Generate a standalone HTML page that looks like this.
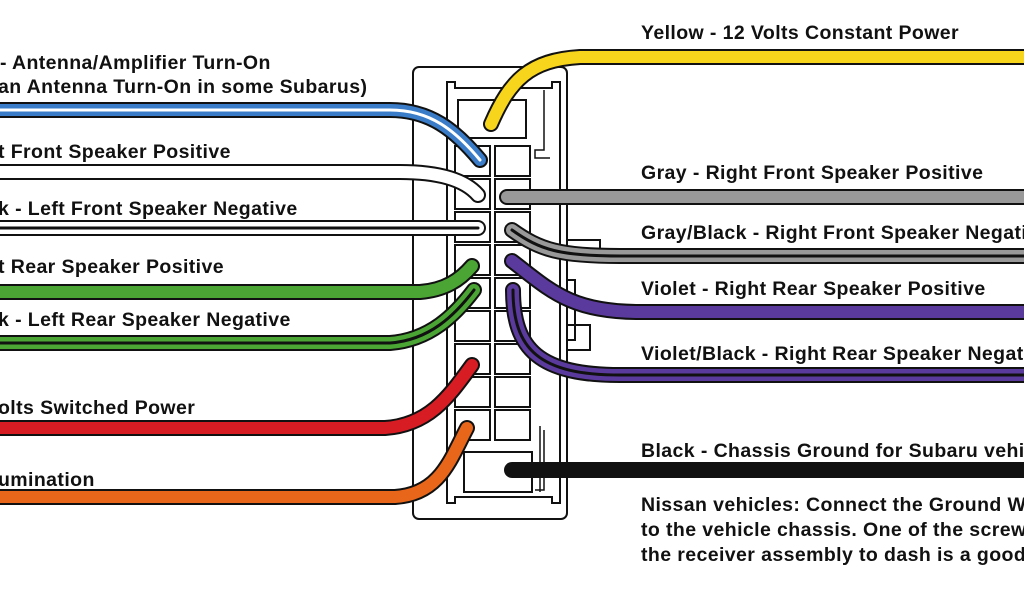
<!DOCTYPE html>
<html><head><style>
body{margin:0;width:1024px;height:600px;overflow:hidden;background:#fff}
svg{display:block}
text{font-family:"Liberation Sans",Arial,sans-serif;font-weight:bold;font-size:19.5px;letter-spacing:0.4px;fill:#111}
</style></head><body>
<svg width="1024" height="600" viewBox="0 0 1024 600">
<rect x="413" y="67" width="154" height="452" rx="6" fill="#fff" stroke="#111" stroke-width="2"/>
<path d="M447 82 H455 V88 H552 V82 H560 V503 H552 V497 H455 V503 H447 Z" fill="#fff" stroke="#111" stroke-width="2"/>
<rect x="458" y="100" width="68" height="38" fill="#fff" stroke="#111" stroke-width="2"/>
<path d="M544 90 V150 H535 V158 H550" fill="none" stroke="#111" stroke-width="1.5"/>
<path d="M544 430 V490 H535 M540 426 V492" fill="none" stroke="#111" stroke-width="1.5"/>
<rect x="464" y="452" width="68" height="40" fill="#fff" stroke="#111" stroke-width="2"/>
<path d="M567 240 H600 V262 H590 M567 280 H575 V340 H567 M567 325 H590 V350 H567" fill="none" stroke="#111" stroke-width="2"/>
<g fill="#fff" stroke="#111" stroke-width="2">
<rect x="455" y="146" width="35" height="30"/><rect x="495" y="146" width="35" height="30"/>
<rect x="455" y="179" width="35" height="30"/><rect x="495" y="179" width="35" height="30"/>
<rect x="455" y="212" width="35" height="30"/><rect x="495" y="212" width="35" height="30"/>
<rect x="455" y="245" width="35" height="30"/><rect x="495" y="245" width="35" height="30"/>
<rect x="455" y="278" width="35" height="30"/><rect x="495" y="278" width="35" height="30"/>
<rect x="455" y="311" width="35" height="30"/><rect x="495" y="311" width="35" height="30"/>
<rect x="455" y="344" width="35" height="30"/><rect x="495" y="344" width="35" height="30"/>
<rect x="455" y="377" width="35" height="30"/><rect x="495" y="377" width="35" height="30"/>
<rect x="455" y="410" width="35" height="30"/><rect x="495" y="410" width="35" height="30"/>
</g>
<g fill="none" stroke-linecap="round">
<path d="M-10 110 H390 C430 110 455 130 480 160" stroke="#111" stroke-width="16"/>
<path d="M-10 110 H390 C430 110 455 130 480 160" stroke="#3a7cc8" stroke-width="12"/>
<path d="M-10 110 H390 C430 110 455 130 480 160" stroke="#fff" stroke-width="3"/>
<path d="M-10 172 H400 C440 172 465 180 478 195" stroke="#111" stroke-width="16"/>
<path d="M-10 172 H400 C440 172 465 180 478 195" stroke="#fff" stroke-width="12"/>
<path d="M-10 228 H478" stroke="#111" stroke-width="16"/>
<path d="M-10 228 H478" stroke="#fff" stroke-width="12"/>
<path d="M-10 228 H478" stroke="#111" stroke-width="3"/>
<path d="M-10 292 H420 C445 290 460 280 472 266" stroke="#111" stroke-width="16"/>
<path d="M-10 292 H420 C445 290 460 280 472 266" stroke="#4aa534" stroke-width="12"/>
<path d="M-10 343 H390 C430 340 455 315 474 290" stroke="#111" stroke-width="16"/>
<path d="M-10 343 H390 C430 340 455 315 474 290" stroke="#4aa534" stroke-width="12"/>
<path d="M-10 343 H390 C430 340 455 315 474 290" stroke="#111" stroke-width="3"/>
<path d="M-10 428 H385 C430 425 450 395 472 365" stroke="#111" stroke-width="16"/>
<path d="M-10 428 H385 C430 425 450 395 472 365" stroke="#d81c24" stroke-width="12"/>
<path d="M-10 497 H395 C440 494 450 460 467 428" stroke="#111" stroke-width="16"/>
<path d="M-10 497 H395 C440 494 450 460 467 428" stroke="#e8661a" stroke-width="12"/>
<path d="M491 124 C510 80 530 60 580 57 H1034" stroke="#111" stroke-width="16"/>
<path d="M491 124 C510 80 530 60 580 57 H1034" stroke="#f7d51d" stroke-width="12"/>
<path d="M507 197 H1034" stroke="#111" stroke-width="16"/>
<path d="M507 197 H1034" stroke="#999" stroke-width="12"/>
<path d="M512 230 C540 250 560 256 620 256 H1034" stroke="#111" stroke-width="16"/>
<path d="M512 230 C540 250 560 256 620 256 H1034" stroke="#999" stroke-width="12"/>
<path d="M512 230 C540 250 560 256 620 256 H1034" stroke="#111" stroke-width="3"/>
<path d="M512 261 C550 290 570 312 640 312 H1034" stroke="#111" stroke-width="16"/>
<path d="M512 261 C550 290 570 312 640 312 H1034" stroke="#5b3a9e" stroke-width="12"/>
<path d="M513 290 C513 350 540 375 620 375 H1034" stroke="#111" stroke-width="16"/>
<path d="M513 290 C513 350 540 375 620 375 H1034" stroke="#5b3a9e" stroke-width="12"/>
<path d="M513 290 C513 350 540 375 620 375 H1034" stroke="#111" stroke-width="3"/>
<path d="M512 470 H1034" stroke="#111" stroke-width="16"/>
</g>
<text x="0" y="69">- Antenna/Amplifier Turn-On</text>
<text x="-2" y="93">an Antenna Turn-On in some Subarus)</text>
<text x="-2" y="158">t Front Speaker Positive</text>
<text x="-2" y="215">k - Left Front Speaker Negative</text>
<text x="-2" y="273">t Rear Speaker Positive</text>
<text x="-2" y="326">k - Left Rear Speaker Negative</text>
<text x="-2" y="414">olts Switched Power</text>
<text x="-2" y="486">umination</text>
<text x="641" y="39">Yellow - 12 Volts Constant Power</text>
<text x="641" y="179">Gray - Right Front Speaker Positive</text>
<text x="641" y="239">Gray/Black - Right Front Speaker Negative</text>
<text x="641" y="295">Violet - Right Rear Speaker Positive</text>
<text x="641" y="360">Violet/Black - Right Rear Speaker Negative</text>
<text x="641" y="457">Black - Chassis Ground for Subaru vehicles</text>
<text x="641" y="511">Nissan vehicles:  Connect the Ground Wire</text>
<text x="641" y="536">to the vehicle chassis.  One of the screws</text>
<text x="641" y="561">the receiver assembly to dash is a good</text>
</svg>
</body></html>
